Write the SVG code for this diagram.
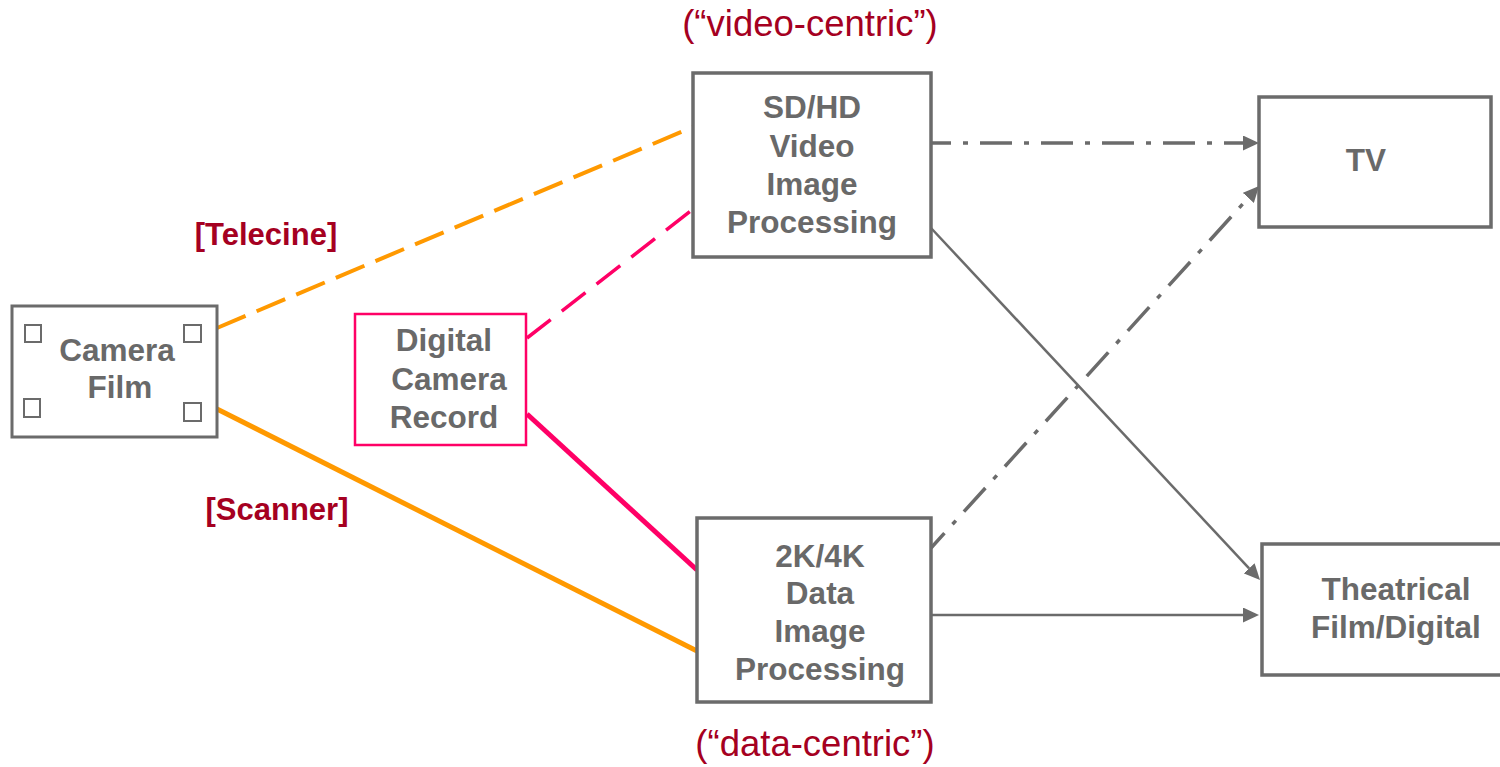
<svg xmlns="http://www.w3.org/2000/svg" width="1500" height="767" viewBox="0 0 1500 767">
  <style>
    .box { fill: #ffffff; stroke: #6b6b6b; stroke-width: 3.5; }
    .pinkbox { fill: #ffffff; stroke: #ff0066; stroke-width: 2.5; }
    .perf { fill: #ffffff; stroke: #6b6b6b; stroke-width: 2; }
    .lbl { font-family: "Liberation Sans", Arial, sans-serif; font-weight: bold; font-size: 31.5px; fill: #696969; text-anchor: middle; }
    .tag { font-family: "Liberation Sans", Arial, sans-serif; font-weight: bold; font-size: 31px; fill: #a50021; text-anchor: middle; }
    .note { font-family: "Liberation Sans", Arial, sans-serif; font-size: 36.5px; fill: #a50021; text-anchor: middle; }
    .orange-dash { stroke: #ff9900; stroke-width: 4; stroke-dasharray: 31 12; fill: none; }
    .orange { stroke: #ff9900; stroke-width: 5; fill: none; }
    .pink-dash { stroke: #ff0066; stroke-width: 3.5; stroke-dasharray: 30 14; fill: none; }
    .pink { stroke: #ff0066; stroke-width: 5; fill: none; }
    .dashdot { stroke: #6b6b6b; stroke-width: 3.5; stroke-dasharray: 32 12 5 12; stroke-dashoffset: 12; fill: none; }
    .thin { stroke: #6b6b6b; stroke-width: 2.5; fill: none; }
  </style>
  <defs>
    <marker id="arrow" markerUnits="userSpaceOnUse" markerWidth="16" markerHeight="15" refX="0" refY="7.5" orient="auto">
      <path d="M0,0 L16,7.5 L0,15 z" fill="#6b6b6b"/>
    </marker>
  </defs>

  <rect width="1500" height="767" fill="#ffffff"/>

  <!-- connectors -->
  <g id="connectors">
    <line class="orange-dash" x1="217" y1="328" x2="693" y2="127"/>
    <line class="orange" x1="217" y1="409" x2="697" y2="651"/>
    <line class="pink-dash" x1="527" y1="338" x2="692" y2="210"/>
    <line class="pink" x1="527" y1="414" x2="697" y2="570"/>
    <line class="dashdot" x1="931" y1="143" x2="1243" y2="143" marker-end="url(#arrow)"/>
    <line class="dashdot" x1="931" y1="548" x2="1248.3" y2="197.9" marker-end="url(#arrow)"/>
    <line class="thin" x1="931" y1="228" x2="1249.1" y2="568.3" marker-end="url(#arrow)"/>
    <line class="thin" x1="931" y1="615" x2="1243" y2="615" marker-end="url(#arrow)"/>
  </g>

  <!-- source: film -->
  <g id="camera-film">
    <rect x="12" y="306" width="205" height="131" fill="#ffffff" stroke="#6b6b6b" stroke-width="3"/>
    <rect class="perf" x="25" y="325" width="16" height="17"/>
    <rect class="perf" x="184" y="325" width="17" height="17"/>
    <rect class="perf" x="24" y="399" width="16" height="18"/>
    <rect class="perf" x="184" y="403" width="17" height="18"/>
    <text class="lbl" x="117" y="361">Camera</text>
    <text class="lbl" x="120" y="398">Film</text>
  </g>

  <!-- source: digital camera -->
  <g id="digital-camera-record">
    <rect class="pinkbox" x="355" y="314" width="171" height="131"/>
    <text class="lbl" x="444" y="351">Digital</text>
    <text class="lbl" x="449" y="390">Camera</text>
    <text class="lbl" x="444" y="428">Record</text>
  </g>

  <!-- processing paths -->
  <g id="sdhd-video">
    <rect class="box" x="693" y="73" width="238" height="184"/>
    <text class="lbl" x="812" y="118">SD/HD</text>
    <text class="lbl" x="812" y="157">Video</text>
    <text class="lbl" x="812" y="195">Image</text>
    <text class="lbl" x="812" y="233">Processing</text>
  </g>

  <g id="data-2k4k">
    <rect class="box" x="697" y="518" width="234" height="184"/>
    <text class="lbl" x="820" y="567">2K/4K</text>
    <text class="lbl" x="820" y="604">Data</text>
    <text class="lbl" x="820" y="642">Image</text>
    <text class="lbl" x="820" y="680">Processing</text>
  </g>

  <!-- outputs -->
  <g id="tv">
    <rect class="box" x="1259" y="97" width="232" height="130"/>
    <text class="lbl" x="1366" y="171">TV</text>
  </g>

  <g id="theatrical">
    <rect class="box" x="1262" y="544" width="245" height="131"/>
    <text class="lbl" x="1396" y="600">Theatrical</text>
    <text class="lbl" x="1396" y="638">Film/Digital</text>
  </g>

  <!-- annotations -->
  <g id="label-telecine">
    <text class="tag" x="266" y="245">[Telecine]</text>
  </g>
  <g id="label-scanner">
    <text class="tag" x="277" y="520">[Scanner]</text>
  </g>
  <g id="label-video-centric">
    <text class="note" x="810" y="36">(“video-centric”)</text>
  </g>
  <g id="label-data-centric">
    <text class="note" x="815" y="756">(“data-centric”)</text>
  </g>
</svg>
